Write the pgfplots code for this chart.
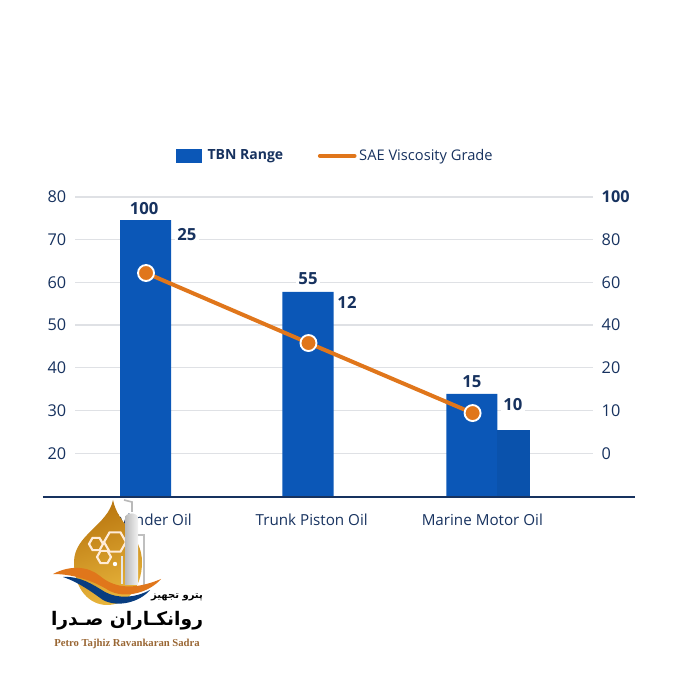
\documentclass[border=0pt]{standalone}
\usepackage{fontspec}
\setmainfont{Open Sans}
\newfontfamily\arabicfont[Script=Arabic]{DejaVu Sans}
\newfontfamily\logofont{Liberation Serif}
\TeXXeTstate=1
\usepackage{pgfplots}
\pgfplotsset{compat=1.18}
\usepackage{pgfplotstable}
\definecolor{barblue}{HTML}{0B57B7}
\definecolor{lineorange}{HTML}{E0761B}
\definecolor{navy}{HTML}{17325F}
\definecolor{gridgrey}{HTML}{DFE1E5}
\definecolor{golddark}{HTML}{B9760F}
\definecolor{goldlight}{HTML}{E8B53C}

\pgfplotstableread{
x y
-0.003 74.6
0.997 57.8
2.005 33.9
}\tbn
\pgfplotstableread{
x y
2.262 25.4
}\tbnextra
\pgfplotstableread{
x y
0 62.2
1 45.8
2.01 29.4
}\sae
\pgfplotstableread{
x y lab
-0.012 77.4 100
0.997 60.8 55
2.006 36.7 15
0.252 71.3 25
1.237 55.2 12
2.258 31.3 10
}\labels

\begin{document}
\begin{tikzpicture}[x=0.75pt,y=0.75pt]
\useasboundingbox (0,0) rectangle (700,700);
\begin{axis}[
    name=main,
    at={(56.25pt,152.25pt)}, anchor=south west,
    scale only axis, width=388.5pt, height=225pt,
    xmin=-0.437, xmax=2.751,
    ymin=9.74, ymax=80,
    clip=false,
    axis lines=left,
    axis line style={draw=none},
    major tick length=0pt,
    xtick={0.03,1.02,2.07},
    xticklabels={Cylinder Oil,Trunk Piston Oil,Marine Motor Oil},
    ytick={20,30,40,50,60,70,80},
    yticklabels={20,30,40,50,60,70,80},
    ymajorgrids,
    grid style={gridgrey,line width=0.9pt},
    tick label style={font=\fontsize{12.2}{14}\selectfont,text=navy},
    xticklabel style={font=\fontsize{11.4}{13}\selectfont,text=navy,yshift=-9pt},
    yticklabel style={anchor=east,xshift=-3pt},
    legend style={at={(0.195,1.137)},anchor=west,draw=none,fill=none,inner sep=0pt,
        font=\fontsize{11}{13}\selectfont,text=navy,
        /tikz/every even column/.append style={column sep=24pt}},
    legend columns=2,
]
\addplot[ybar,bar width=0.314,bar shift=0pt,fill=barblue,draw=none,
    legend image code/.code={\fill[barblue] (0pt,-5.5pt) rectangle (19pt,5.5pt);}]
    table[x=x,y=y] {\tbn};
\addlegendentry{\hspace{2.5pt}\fontsize{10.5}{13}\selectfont\textbf{TBN Range}}
\addplot[ybar,bar width=0.205,bar shift=0pt,fill=barblue!94!black,draw=none,forget plot]
    table[x=x,y=y] {\tbnextra};
\addplot[lineorange,line width=3pt,mark=none,
    legend image code/.code={\draw[lineorange,line width=3pt,line cap=round] (0pt,0pt) -- (26pt,0pt);}]
    table[x=x,y=y] {\sae};
\addlegendentry{SAE Viscosity Grade}
\addplot[only marks,mark=*,mark size=6pt,
    mark options={fill=lineorange,draw=white,line width=1.4pt},forget plot]
    table[x=x,y=y] {\sae};
\addplot[forget plot,draw=none,mark=none,
    point meta=explicit symbolic,
    nodes near coords,
    nodes near coords style={anchor=center,fill=white,inner sep=2pt,text=navy,
        font=\fontsize{12.5}{14}\bfseries\selectfont}]
    table[x=x,y=y,meta=lab] {\labels};
% baseline runs wider than the grid
\addplot[forget plot,navy,line width=0.85pt] coordinates {(-0.634,9.74) (3.009,9.74)};
\end{axis}
\begin{axis}[
    at={(56.25pt,152.25pt)}, anchor=south west,
    scale only axis, width=388.5pt, height=225pt,
    xmin=-0.437, xmax=2.751,
    ymin=9.74, ymax=80,
    axis x line=none,
    axis y line*=right,
    y axis line style={draw=none},
    major tick length=0pt,
    ytick={20,30,40,50,60,70,80},
    yticklabels={0,10,20,40,60,80,\textbf{100}},
    yticklabel style={anchor=west,xshift=3pt,font=\fontsize{12.2}{14}\selectfont,text=navy},
]
\addplot[draw=none,forget plot] coordinates {(0,20) (1,80)};
\end{axis}
% logo watermark, pixel positions measured from the top of the image
\begin{scope}[shift={(0,700)},yscale=-1]
\shade[left color=golddark,right color=goldlight,shading angle=20]
  (113,500) .. controls (108,525) and (74,535) .. (74,562)
  .. controls (74,590) and (90,605) .. (107,605)
  .. controls (125,605) and (142,590) .. (142,562)
  .. controls (142,535) and (118,525) .. (113,500) -- cycle;
\foreach \cx/\cy/\r in {115/542/11,96/544/7,104/557/7}{
  \draw[white!85!orange,line width=1.6pt]
    (\cx+\r,\cy) -- (\cx+0.5*\r,\cy-0.87*\r) -- (\cx-0.5*\r,\cy-0.87*\r)
    -- (\cx-\r,\cy) -- (\cx-0.5*\r,\cy+0.87*\r) -- (\cx+0.5*\r,\cy+0.87*\r) -- cycle;
}
\shade[left color=gray!55,right color=gray!10]
  (125,518) .. controls (125,512) and (138,512) .. (138,518) -- (138,585) -- (125,585) -- cycle;
\draw[gray!55,line width=1.2pt] (124,500) -- (132,502) -- (132,512);
\draw[gray!50,line width=1.4pt] (138,535) -- (144,535) -- (144,585);
\draw[gray!20,line width=1.2pt] (122,556) -- (122,584);
\fill[white] (115,564) circle (2.2);
\fill[lineorange] (53,574) .. controls (70,565) and (88,566) .. (100,576)
  .. controls (112,586) and (130,592) .. (161,579)
  .. controls (150,592) and (125,600) .. (108,590)
  .. controls (92,580) and (72,574) .. (53,574) -- cycle;
\fill[barblue!70!black] (63,577) .. controls (80,576) and (92,584) .. (105,592)
  .. controls (118,599) and (135,598) .. (150,590)
  .. controls (140,602) and (118,608) .. (103,600)
  .. controls (92,592) and (78,582) .. (63,577) -- cycle;
\node[text=black,inner sep=0pt] at (177,597) {\arabicfont\fontsize{7.5}{9}\bfseries\selectfont\beginR پترو تجهیز\endR};
\node[text=black,inner sep=0pt] at (127,621) {\arabicfont\fontsize{14}{16}\bfseries\selectfont\beginR روانکـاران صـدرا\endR};
\node[text=brown!80!black,inner sep=0pt] at (127,644) {\logofont\fontsize{8}{10}\bfseries\selectfont Petro Tajhiz Ravankaran Sadra};
\end{scope}
\end{tikzpicture}
\end{document}
